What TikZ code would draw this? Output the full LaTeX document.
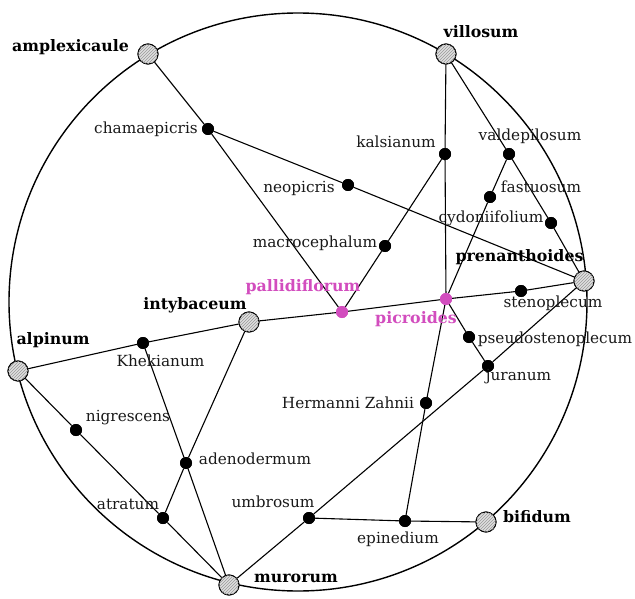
\documentclass[tikz,border=0pt]{standalone}
\usepackage{fontspec}
\setmainfont{DejaVu Serif}
\usetikzlibrary{patterns}
\definecolor{pinkc}{HTML}{D24DBE}
\begin{document}
\begin{tikzpicture}[x=1pt,y=-1pt,
  big/.style={circle,draw,line width=1pt,minimum size=20pt,inner sep=0pt,fill=gray!25,postaction={pattern=north east lines,pattern color=gray!80}},
  small/.style={circle,fill=black,minimum size=12pt,inner sep=0pt},
  pinkn/.style={circle,fill=pinkc,minimum size=12pt,inner sep=0pt},
  lab/.style={font=\fontsize{15.3}{17}\selectfont,text=black!90,inner sep=0pt},
  blab/.style={font=\fontsize{15.8}{18}\selectfont\bfseries,inner sep=0pt},
  plab/.style={font=\fontsize{15.8}{18}\selectfont\bfseries,text=pinkc,inner sep=0pt},
  edge/.style={line width=1.1pt}]
\useasboundingbox (0,0) rectangle (635,599);
\draw[line width=1.4pt] (298,302) circle (289);
% big nodes
\node[big] (ampl) at (148,54) {};
\node[big] (vill) at (446,54) {};
\node[big] (pren) at (584,281) {};
\node[big] (bifi) at (486,522) {};
\node[big] (muro) at (229,585) {};
\node[big] (alpi) at (18,371) {};
\node[big] (inty) at (249,322) {};
% small nodes
\node[small] (cham) at (208,129) {};
\node[small] (neop) at (348,185) {};
\node[small] (kals) at (445,154) {};
\node[small] (vald) at (509,154) {};
\node[small] (fast) at (490,197) {};
\node[small] (cydo) at (551,223) {};
\node[small] (macr) at (385,246) {};
\node[pinkn] (pall) at (342,312) {};
\node[pinkn] (picr) at (446,299) {};
\node[small] (sten) at (521,291) {};
\node[small] (pseu) at (469,337) {};
\node[small] (jura) at (488,366) {};
\node[small] (herm) at (426,403) {};
\node[small] (khek) at (143,343) {};
\node[small] (nigr) at (76,430) {};
\node[small] (aden) at (186,463) {};
\node[small] (atra) at (163,518) {};
\node[small] (umbr) at (309,518) {};
\node[small] (epin) at (405,521) {};
% edges
\draw[edge] (ampl) -- (cham) -- (pall);
\draw[edge] (cham) -- (neop) -- (pren);
\draw[edge] (vill) -- (kals) -- (picr);
\draw[edge] (kals) -- (macr) -- (pall);
\draw[edge] (vill) -- (vald) -- (cydo) -- (pren);
\draw[edge] (vald) -- (fast) -- (picr);
\draw[edge] (inty) -- (pall) -- (picr) -- (sten) -- (pren);
\draw[edge] (pren) -- (jura) -- (umbr) -- (muro);
\draw[edge] (picr) -- (pseu) -- (jura);
\draw[edge] (picr) -- (herm) -- (epin);
\draw[edge] (umbr) -- (epin) -- (bifi);
\draw[edge] (alpi) -- (khek) -- (inty);
\draw[edge] (khek) -- (aden) -- (muro);
\draw[edge] (inty) -- (aden) -- (atra);
\draw[edge] (alpi) -- (nigr) -- (atra) -- (muro);
% redraw nodes on top
\foreach \n in {ampl,vill,pren,bifi,muro,alpi,inty}{\node[big] at (\n) {};}
\foreach \n in {cham,neop,kals,vald,fast,cydo,macr,sten,pseu,jura,herm,khek,nigr,aden,atra,umbr,epin}{\node[small] at (\n) {};}
\foreach \n in {pall,picr}{\node[pinkn] at (\n) {};}
% labels
\node[blab] (l-ampl) at (70.5,47) {amplexicaule};
\node[blab] (l-vill) at (481,32) {villosum};
\node[blab] (l-pren) at (519.5,257) {prenanthoides};
\node[blab] (l-bifi) at (537,517) {bifidum};
\node[blab] (l-muro) at (296,578) {murorum};
\node[blab] (l-alpi) at (53,340) {alpinum};
\node[blab] (l-inty) at (195,305) {intybaceum};
\node[plab] (l-pall) at (303,287) {pallidiflorum};
\node[plab] (l-picr) at (416,319) {picroides};
\node[lab] (l-cham) at (146,129) {chamaepicris};
\node[lab] (l-neop) at (299,188) {neopicris};
\node[lab] (l-kals) at (396,142) {kalsianum};
\node[lab] (l-vald) at (530,136) {valdepilosum};
\node[lab] (l-fast) at (541,187) {fastuosum};
\node[lab] (l-cydo) at (491,218) {cydoniifolium};
\node[lab] (l-macr) at (315,243) {macrocephalum};
\node[lab] (l-sten) at (553,303) {stenoplecum};
\node[lab] (l-pseu) at (555,339) {pseudostenoplecum};
\node[lab] (l-jura) at (518.5,377) {juranum};
\node[lab] (l-herm) at (348,403) {Hermanni Zahnii};
\node[lab] (l-khek) at (160.5,361) {Khekianum};
\node[lab] (l-nigr) at (128,418) {nigrescens};
\node[lab] (l-aden) at (255,459) {adenodermum};
\node[lab] (l-atra) at (128,504) {atratum};
\node[lab] (l-umbr) at (273,502) {umbrosum};
\node[lab] (l-epin) at (398,539) {epinedium};
\end{tikzpicture}
\end{document}
